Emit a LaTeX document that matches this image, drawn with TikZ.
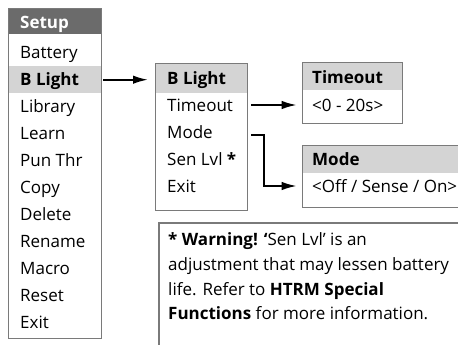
\documentclass[tikz,border=0pt]{standalone}
\usepackage{fontspec}
\setmainfont{Open Sans}
\usetikzlibrary{arrows.meta}
\definecolor{hdrdark}{HTML}{6B6B6B}
\definecolor{bandgray}{HTML}{D4D4D4}
\definecolor{boxline}{HTML}{7A7A7A}
\begin{document}
\begin{tikzpicture}[x=1pt,y=-1pt,
  txt/.style={font=\fontsize{17}{20}\selectfont, inner sep=0pt, anchor=west, text height=12.1pt, text depth=0pt},
  boldtxt/.style={txt, font=\fontsize{17}{20}\selectfont\bfseries},
  boxfr/.style={draw=boxline, line width=1.1pt, inner sep=0pt, anchor=north west},
  band/.style={inner sep=0pt, anchor=north west, draw=none},
  arr/.style={line width=1.9pt, -{Latex[length=15pt,width=8.5pt]}},
  warnfr/.style={draw=boxline, line width=2.4pt, inner sep=0pt, anchor=north west}]
\clip (0,0) rectangle (458,345);
\fill[white] (0,0) rectangle (458,345);
% ---------- Setup menu
\node[band, fill=hdrdark, minimum width=92.5pt, minimum height=26pt] (shdr) at (8,8) {};
\node[band, fill=bandgray, minimum width=92.5pt, minimum height=27pt] (sblband) at (8,66) {};
\node[boxfr, minimum width=92.5pt, minimum height=330pt] (setupbox) at (8,8) {};
\node[boldtxt, text=white] (tsetup) at (20,22) {Setup};
\node[txt] (s1) at (20,52) {Battery};
\node[boldtxt] (s2) at (20,79) {B Light};
\node[txt] (s3) at (20,106) {Library};
\node[txt] (s4) at (20,133) {Learn};
\node[txt] (s5) at (20,160) {Pun Thr};
\node[txt] (s6) at (20,187) {Copy};
\node[txt] (s7) at (20,214) {Delete};
\node[txt] (s8) at (20,241) {Rename};
\node[txt] (s9) at (20,268) {Macro};
\node[txt] (s10) at (20,295) {Reset};
\node[txt] (s11) at (20,322) {Exit};
% ---------- B Light submenu
\node[band, fill=bandgray, minimum width=92pt, minimum height=30pt] (bhdr) at (155,63) {};
\node[boxfr, minimum width=92pt, minimum height=147pt] (subbox) at (155,63) {};
\node[boldtxt] (b0) at (167,78) {B Light};
\node[txt] (b1) at (167,105) {Timeout};
\node[txt] (b2) at (167,132) {Mode};
\node[txt] (b3) at (167,159) {Sen Lvl \textbf{*}};
\node[txt] (b4) at (167,186) {Exit};
% ---------- Timeout box
\node[band, fill=bandgray, minimum width=100pt, minimum height=28pt] (thdr) at (301.7,62) {};
\node[boxfr, minimum width=100pt, minimum height=61pt] (tobox) at (301.7,62) {};
\node[boldtxt] (t0) at (312,77) {Timeout};
\node[txt] (t1) at (312,105) {<0 - 20s>};
% ---------- Mode box
\node[band, fill=bandgray, minimum width=170pt, minimum height=28pt] (mhdr) at (301.7,145) {};
\node[boxfr, minimum width=170pt, minimum height=62pt] (mdbox) at (301.7,145) {};
\node[boldtxt] (m0) at (312,159) {Mode};
\node[txt] (m1) at (312,186) {<Off / Sense / On>};
% ---------- Warning box
\node[warnfr, minimum width=320pt, minimum height=140pt] (warnbox) at (158,222) {};
\node[txt] (w1) at (168,239) {\textbf{* Warning! ‘}Sen Lvl’ is an};
\node[txt] (w2) at (168,264) {adjustment that may lessen battery};
\node[txt] (w3) at (168,289) {life. Refer to \textbf{HTRM Special}};
\node[txt] (w4) at (168,313) {\textbf{Functions} for more information.};
% ---------- connectors
\draw[arr, shorten <=2.5pt, shorten >=7pt] (sblband.east) -- (sblband.east -| subbox.west);
\draw[arr, shorten <=3pt, shorten >=5pt] (subbox.east |- b1) -- (tobox.west |- b1);
\draw[arr, shorten <=3pt, shorten >=5pt] ([yshift=-3pt]subbox.east |- b2) -- ++(16,0) |- (mdbox.west |- m1);
\end{tikzpicture}
\end{document}
